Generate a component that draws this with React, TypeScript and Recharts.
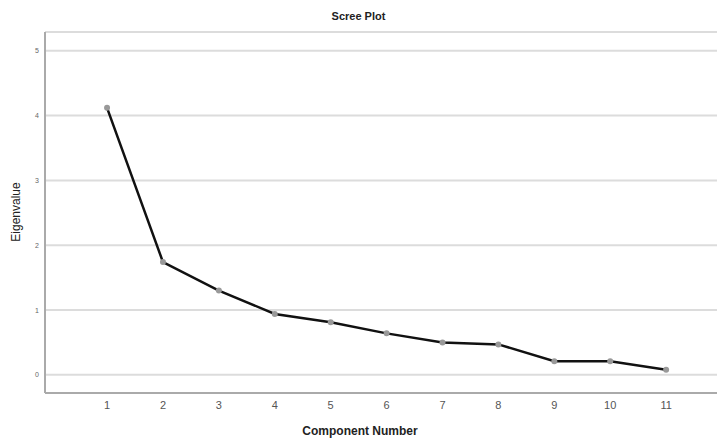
import { LineChart, Line, XAxis, YAxis, CartesianGrid } from 'recharts'

const components = [1, 2, 3, 4, 5, 6, 7, 8, 9, 10, 11]
const eigenvalues = [4.12, 1.74, 1.3, 0.94, 0.81, 0.64, 0.5, 0.47, 0.21, 0.21, 0.08]
const xTicks = [1, 2, 3, 4, 5, 6, 7, 8, 9, 10, 11]
const yTicks = [0, 1, 2, 3, 4, 5]

const font = '"Liberation Sans", Arial, sans-serif'

export default function App() {
  const data = components.map((c, i) => ({ component: c, eigenvalue: eigenvalues[i] }))

  return (
    <div style={{ position: 'fixed', top: 0, left: 0, width: 717, height: 443, background: '#fff', fontFamily: font }}>
      <div style={{ position: 'absolute', top: 10, left: 0, width: 717, textAlign: 'center', fontSize: 11, fontWeight: 'bold', color: '#222' }}>
        Scree Plot
      </div>
      <LineChart width={717} height={443} data={data} margin={{ top: 32, right: 0, left: 0, bottom: 0 }}>
        <CartesianGrid vertical={false} stroke="#dcdcdc" strokeWidth={2} />
        <XAxis
          dataKey="component"
          type="number"
          domain={[-0.11, 11.91]}
          ticks={xTicks}
          height={50}
          stroke="#aaa"
          strokeWidth={2}
          tickLine={false}
          tickSize={0}
          tickMargin={8}
          tick={{ fontSize: 11, fill: '#555', fontFamily: font }}
          label={{
            content: () => (
              <text x={360} y={432} textAnchor="middle" dominantBaseline="middle" fontSize={12} fontWeight="bold" fill="#222" fontFamily={font}>
                Component Number
              </text>
            ),
          }}
        />
        <YAxis
          type="number"
          domain={[-0.28, 5.29]}
          ticks={yTicks}
          width={45}
          stroke="#aaa"
          strokeWidth={2}
          tickLine={false}
          tickSize={0}
          tickMargin={6}
          tick={{ fontSize: 7, fill: '#666', fontFamily: font }}
          label={{
            content: () => (
              <text x={17} y={212} transform="rotate(-90 17 212)" textAnchor="middle" dominantBaseline="middle" fontSize={12} fill="#222" fontFamily={font}>
                Eigenvalue
              </text>
            ),
          }}
        />
        <Line
          type="linear"
          dataKey="eigenvalue"
          stroke="#111"
          strokeWidth={2.5}
          dot={{ r: 3, fill: '#999', stroke: 'none' }}
          activeDot={false}
          isAnimationActive={false}
        />
      </LineChart>
    </div>
  )
}
